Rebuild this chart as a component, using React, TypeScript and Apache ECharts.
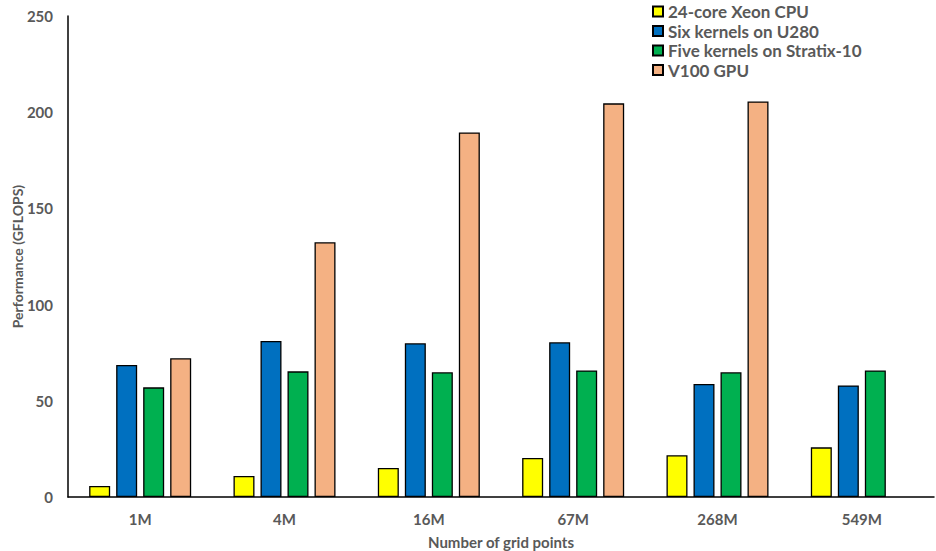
import React, { useEffect, useRef } from "react";
import * as echarts from "echarts";

const categories = ["1M", "4M", "16M", "67M", "268M", "549M"];
const xeonCpu = [5.7, 10.9, 15.1, 20.3, 21.7, 25.8];
const u280 = [68.6, 81.1, 79.9, 80.4, 58.7, 58.0];
const stratix10 = [57.0, 65.3, 64.8, 65.8, 64.8, 65.8];
const v100Gpu = [72.1, 132.4, 189.5, 204.6, 205.6, null];
const seriesNames = ["24-core Xeon CPU", "Six kernels on U280", "Five kernels on Stratix-10", "V100 GPU"];
const seriesColors = ["#FFFF00", "#0070C0", "#00B050", "#F4B183"];

const FONT = "Lato, 'Open Sans', sans-serif";
const GRAY = "#595959";

export default function App() {
  const ref = useRef<HTMLDivElement>(null);
  useEffect(() => {
    if (!ref.current) return;
    const chart = echarts.init(ref.current, undefined, { renderer: "svg" });
    const data = [xeonCpu, u280, stratix10, v100Gpu];
    chart.setOption({
      animation: false,
      backgroundColor: "#ffffff",
      grid: { left: 68, right: 2, top: 16, bottom: 54, containLabel: false, outerBoundsMode: "none" },
      legend: {
        orient: "vertical",
        left: 652,
        top: 2,
        padding: 0,
        icon: "rect",
        itemWidth: 10,
        itemHeight: 10,
        itemGap: 0.5,
        textStyle: { color: GRAY, fontFamily: FONT, fontWeight: "bold", fontSize: 17, lineHeight: 19 },
        data: seriesNames,
      },
      xAxis: {
        type: "category",
        data: categories,
        name: "Number of grid points",
        nameLocation: "middle",
        nameGap: 37,
        nameMoveOverlap: false,
        nameTextStyle: { color: GRAY, fontFamily: FONT, fontWeight: "bold", fontSize: 15 },
        axisLine: { lineStyle: { color: "#000", width: 1.5 } },
        axisTick: { show: false },
        axisLabel: { color: GRAY, fontFamily: FONT, fontWeight: "bold", fontSize: 15, margin: 14 },
      },
      yAxis: {
        type: "value",
        min: 0,
        max: 250,
        interval: 50,
        name: "Performance (GFLOPS)",
        nameLocation: "middle",
        nameGap: 44,
        nameMoveOverlap: false,
        nameTextStyle: { color: GRAY, fontFamily: FONT, fontWeight: "bold", fontSize: 14 },
        axisLine: { show: true, lineStyle: { color: "#000", width: 1.5 } },
        axisTick: { show: false },
        splitLine: { show: false },
        axisLabel: { color: GRAY, fontFamily: FONT, fontWeight: "bold", fontSize: 15, margin: 15 },
      },
      series: seriesNames.map((name, i) => ({
        name,
        type: "bar",
        data: data[i],
        barWidth: 21,
        barGap: "28.6%",
        itemStyle: { color: seriesColors[i], borderColor: "#000", borderWidth: 1.3 },
      })),
    });
    return () => chart.dispose();
  }, []);
  return <div ref={ref} style={{ position: "fixed", left: 0, top: 0, width: 936, height: 551 }} />;
}
